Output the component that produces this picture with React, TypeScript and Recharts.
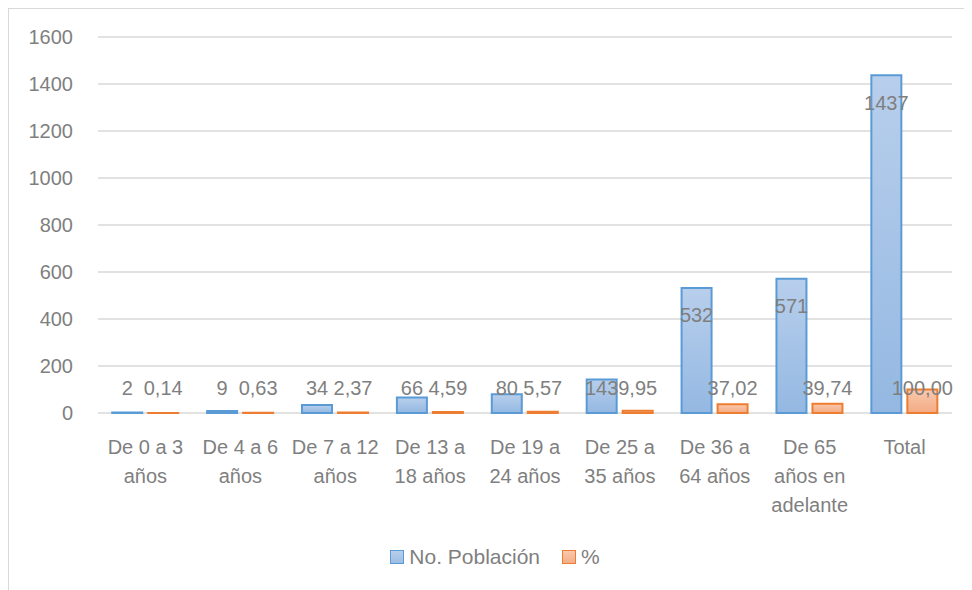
import React from "react";
import { BarChart, Bar, XAxis, YAxis, CartesianGrid, Legend, LabelList } from "recharts";

const categories = [
  "De 0 a 3 años",
  "De 4 a 6 años",
  "De 7 a 12 años",
  "De 13 a 18 años",
  "De 19 a 24 años",
  "De 25 a 35 años",
  "De 36 a 64 años",
  "De 65 años en adelante",
  "Total",
];
const poblacion = [2, 9, 34, 66, 80, 143, 532, 571, 1437];
const porcentaje = [0.14, 0.63, 2.37, 4.59, 5.57, 9.95, 37.02, 39.74, 100.0];
const yTicks = [0, 200, 400, 600, 800, 1000, 1200, 1400, 1600];

const data = categories.map((c, i) => ({ name: c, pob: poblacion[i], pct: porcentaje[i] }));

const FONT = "'Liberation Sans', Arial, sans-serif";
const FS = 20;
const GRAY = "#7f7f7f";

let ctx: CanvasRenderingContext2D | null = null;
function wrap(label: string, maxW: number): string[] {
  if (!ctx) ctx = document.createElement("canvas").getContext("2d");
  ctx!.font = `${FS}px ${FONT}`;
  const lines: string[] = [];
  let cur = "";
  for (const w of label.split(" ")) {
    const next = cur ? cur + " " + w : w;
    if (cur && ctx!.measureText(next).width > maxW) {
      lines.push(cur);
      cur = w;
    } else cur = next;
  }
  if (cur) lines.push(cur);
  return lines;
}

const CatTick = (props: any) => {
  const { x, y, payload } = props;
  const lines = wrap(payload.value, 90);
  return (
    <text x={x} y={y} textAnchor="middle" fontSize={FS} fontFamily={FONT} fill={GRAY}>
      {lines.map((l, i) => (
        <tspan key={i} x={x} y={y + 39 + i * 29}>
          {l}
        </tspan>
      ))}
    </text>
  );
};

const makeLabel = (fmt: (v: number) => string) => (props: any) => {
  const { x, y, width, height, value } = props;
  const base = y + height;
  const cy = Math.min(y + 27, base - 25);
  return (
    <text
      x={x + width / 2}
      y={cy}
      dy="0.36em"
      textAnchor="middle"
      fontSize={FS}
      fontFamily={FONT}
      fill={GRAY}
    >
      {fmt(value)}
    </text>
  );
};

const LegendContent = () => (
  <div
    style={{
      display: "flex",
      justifyContent: "center",
      alignItems: "center",
      height: 24,
      fontFamily: FONT,
      fontSize: 21,
      color: GRAY,
      paddingLeft: 29,
    }}
  >
    <span style={{ width: 12, height: 12, border: "1.5px solid #5b9bd5", background: "linear-gradient(#b8cfec,#9cbde4)", marginRight: 5 }} />
    <span style={{ marginRight: 22 }}>No. Población</span>
    <span style={{ width: 12, height: 12, border: "1.5px solid #ed7d31", background: "linear-gradient(#f9c9ad,#f4ad88)", marginRight: 5 }} />
    <span>%</span>
  </div>
);

export default function App() {
  return (
    <div
      style={{
        width: 963,
        height: 581,
        borderTop: "1px solid #d9d9d9",
        borderLeft: "1px solid #d9d9d9",
        background: "#fff",
      }}
    >
      <BarChart
        width={963}
        height={581}
        data={data}
        margin={{ top: 28, right: 20, bottom: 33, left: 0 }}
        barCategoryGap="15%"
        barGap={6}
      >
        <defs>
          <linearGradient id="gBlue" x1="0" y1="0" x2="0" y2="1">
            <stop offset="0%" stopColor="#b8cfec" />
            <stop offset="100%" stopColor="#94b8e2" />
          </linearGradient>
          <linearGradient id="gOrange" x1="0" y1="0" x2="0" y2="1">
            <stop offset="0%" stopColor="#f9c9ad" />
            <stop offset="100%" stopColor="#f3aa84" />
          </linearGradient>
        </defs>
        <CartesianGrid vertical={false} stroke="#d9d9d9" strokeWidth={1.5} />
        <XAxis
          dataKey="name"
          axisLine={false}
          tickLine={false}
          tickSize={0}
          height={120}
          interval={0}
          tick={<CatTick />}
        />
        <YAxis
          width={89}
          domain={[0, 1600]}
          ticks={yTicks}
          axisLine={false}
          tickLine={false}
          tickSize={0}
          tickMargin={25}
          tick={{ fontSize: FS, fill: GRAY, fontFamily: FONT }}
        />
        <Legend verticalAlign="bottom" content={<LegendContent />} wrapperStyle={{ bottom: 21 }} />
        <Bar dataKey="pob" name="No. Población" fill="url(#gBlue)" stroke="#5b9bd5" strokeWidth={2} isAnimationActive={false}>
          <LabelList dataKey="pob" content={makeLabel((v) => String(v))} />
        </Bar>
        <Bar dataKey="pct" name="%" fill="url(#gOrange)" stroke="#ed7d31" strokeWidth={2} isAnimationActive={false}>
          <LabelList dataKey="pct" content={makeLabel((v) => v.toFixed(2).replace(".", ","))} />
        </Bar>
      </BarChart>
    </div>
  );
}
